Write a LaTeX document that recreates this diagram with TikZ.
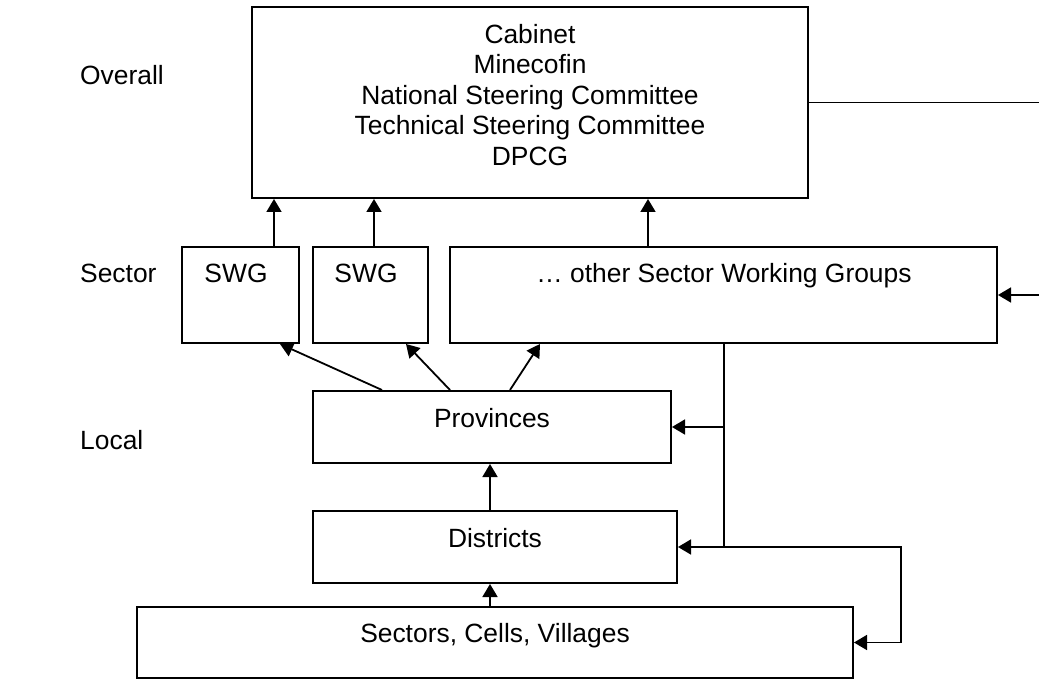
\documentclass[tikz,border=0pt]{standalone}
\usepackage{fontspec}
\setmainfont{Liberation Sans}
\usetikzlibrary{arrows.meta}
\begin{document}
\begin{tikzpicture}[x=1pt,y=-1pt,
  box/.style={draw, line width=2pt, inner sep=0pt},
  txt/.style={font=\fontsize{26.4}{30.5}\selectfont, align=center, inner sep=0pt},
  conn/.style={line width=1.8pt},
  arr/.style={line width=1.8pt, -{Triangle[length=13pt,width=15pt]}}]
\useasboundingbox (0,0) rectangle (1039,679);
% boxes
\node[box, minimum width=556pt, minimum height=191pt] (top) at (530,102.5) {};
\node[box, minimum width=117pt, minimum height=96pt] (swg1) at (240.5,295) {};
\node[box, minimum width=115pt, minimum height=96pt] (swg2) at (370.5,295) {};
\node[box, minimum width=547pt, minimum height=96pt] (other) at (723.5,295) {};
\node[box, minimum width=358pt, minimum height=72pt] (prov) at (492,427) {};
\node[box, minimum width=364pt, minimum height=72pt] (dist) at (495,547) {};
\node[box, minimum width=716pt, minimum height=71pt] (sect) at (495,642.5) {};
% texts
\node[txt] (topt) at (530,95) {Cabinet\\Minecofin\\National Steering Committee\\Technical Steering Committee\\DPCG};
\node[txt, anchor=base] (swg1t) at (236,282.5) {SWG};
\node[txt, anchor=base] (swg2t) at (366,282.5) {SWG};
\node[txt, anchor=base] (othert) at (724,282.5) {… other Sector Working Groups};
\node[txt, anchor=base] (provt) at (492,427.5) {Provinces};
\node[txt, anchor=base] (distt) at (495,547.5) {Districts};
\node[txt, anchor=base] (sectt) at (495,642.5) {Sectors, Cells, Villages};
% level labels
\node[txt, anchor=base west] (lov) at (80,84.5) {Overall};
\node[txt, anchor=base west] (lse) at (80,282.5) {Sector};
\node[txt, anchor=base west] (llo) at (80,449.5) {Local};
% arrows up into top box
\coordinate (u1) at ([xshift=33.5pt]swg1.north);
\coordinate (u2) at ([xshift=3.5pt]swg2.north);
\coordinate (u3) at ([xshift=-75.5pt]other.north);
\draw[arr] (u1) -- (u1 |- top.south);
\draw[arr] (u2) -- (u2 |- top.south);
\draw[arr] (u3) -- (u3 |- top.south);
% provinces to sector groups
\draw[arr] ([xshift=-110pt]prov.north) -- ([xshift=39.5pt]swg1.south);
\draw[arr] ([xshift=-42pt]prov.north) -- ([xshift=35.5pt]swg2.south);
\draw[arr] ([xshift=18pt]prov.north) -- ([xshift=-183.5pt]other.south);
% upward chain
\coordinate (d1) at ([xshift=-5pt]dist.north);
\coordinate (s1) at ([xshift=-5pt]sect.north);
\draw[arr] (d1) -- (d1 |- prov.south);
\draw[arr] (s1) -- (s1 |- dist.south);
% feedback from sector groups
\coordinate (j) at ([xshift=0.5pt]other.south);
\draw[conn] (j) -- (j |- dist.east);
\draw[arr] (j |- prov.east) -- (prov.east);
\draw[arr] (j |- dist.east) -- (dist.east);
\draw[arr] (j |- dist.east) -- ++(177,0) |- (sect.east);
% feedback from top (runs off the right edge)
\coordinate (fb) at (1050,0);
\draw[arr] (top.east) -- (fb |- top.east) -- (fb |- other.east) -- (other.east);
\end{tikzpicture}
\end{document}
